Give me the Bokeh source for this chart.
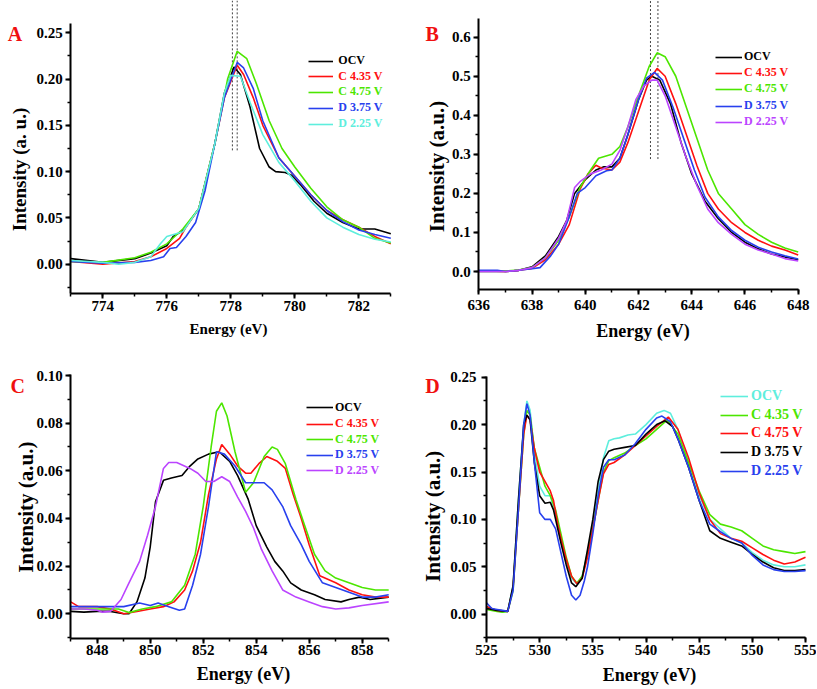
import math
from bokeh.plotting import figure
from bokeh.layouts import gridplot
from bokeh.models import Legend, LegendItem, Label, SingleIntervalTicker, NumeralTickFormatter, Range1d
from bokeh.embed import file_html
from bokeh.resources import INLINE

SERIF = "Liberation Serif"

LABELS = ["OCV", "C 4.35 V", "C 4.75 V", "D 3.75 V", "D 2.25 V"]

BLACK = "#000000"
RED = "#ff1010"
GREEN = "#4ce600"
BLUE = "#2840ee"
CYAN = "#5eeedd"
VIOLET = "#bb44ff"
LETTER_RED = "#f01010"

# ---------------- Panel A (773-783 eV) ----------------
A_OCV_X = [773, 774, 775, 775.5, 776, 776.2, 776.5, 777, 777.5, 777.8, 778.1, 778.3, 778.6, 778.9, 779.2, 779.4, 779.7, 779.9, 780.2, 780.6, 781, 781.5, 782, 782.5, 783]
A_OCV_Y = [0.006, 0.002, 0.006, 0.012, 0.020, 0.030, 0.036, 0.060, 0.130, 0.185, 0.213, 0.205, 0.170, 0.125, 0.105, 0.100, 0.099, 0.096, 0.085, 0.068, 0.055, 0.045, 0.038, 0.038, 0.033]
A_C435_X = [773, 774, 775, 775.5, 776, 776.4, 776.6, 777, 777.5, 777.8, 778.2, 778.4, 778.7, 779, 779.5, 780, 780.5, 781, 781.5, 782, 782.5, 783]
A_C435_Y = [0.003, 0.000, 0.003, 0.008, 0.017, 0.028, 0.040, 0.060, 0.130, 0.180, 0.215, 0.205, 0.180, 0.150, 0.115, 0.095, 0.075, 0.058, 0.048, 0.040, 0.030, 0.022]
A_C475_X = [773, 774, 775, 775.5, 776, 776.5, 777, 777.5, 777.9, 778.2, 778.5, 778.8, 779.2, 779.6, 780, 780.5, 781, 781.5, 782, 782.5, 783]
A_C475_Y = [0.003, 0.002, 0.007, 0.013, 0.022, 0.038, 0.060, 0.130, 0.200, 0.230, 0.222, 0.195, 0.155, 0.125, 0.105, 0.082, 0.062, 0.048, 0.040, 0.028, 0.023]
A_D375_X = [773, 774, 775, 775.5, 775.9, 776.1, 776.3, 776.6, 776.9, 777.2, 777.5, 777.8, 778.2, 778.4, 778.7, 779, 779.5, 780, 780.5, 781, 781.5, 782, 782.5, 783]
A_D375_Y = [0.003, 0.001, 0.002, 0.004, 0.008, 0.017, 0.018, 0.030, 0.045, 0.080, 0.130, 0.180, 0.218, 0.212, 0.190, 0.155, 0.115, 0.095, 0.075, 0.058, 0.046, 0.037, 0.032, 0.028]
A_D225_X = [773, 774, 774.5, 775, 775.5, 775.8, 776, 776.5, 777, 777.5, 777.8, 778, 778.3, 778.6, 779, 779.5, 780, 780.5, 781, 781.5, 782, 782.5, 783]
A_D225_Y = [0.004, 0.002, 0.000, 0.002, 0.008, 0.022, 0.030, 0.035, 0.060, 0.130, 0.185, 0.204, 0.203, 0.175, 0.140, 0.110, 0.090, 0.068, 0.050, 0.040, 0.032, 0.027, 0.024]
A_MARKERS = [778.05, 778.2]

# ---------------- Panel B (636-648 eV) ----------------
B_OCV_X = [636, 637, 637.5, 638, 638.5, 639, 639.3, 639.6, 640, 640.4, 640.7, 641, 641.3, 641.6, 642, 642.3, 642.5, 642.8, 643.2, 643.6, 644, 644.5, 645, 645.5, 646, 646.5, 647, 647.5, 648]
B_OCV_Y = [0.000, 0.000, 0.003, 0.012, 0.040, 0.090, 0.130, 0.200, 0.235, 0.260, 0.268, 0.268, 0.290, 0.350, 0.440, 0.490, 0.500, 0.490, 0.430, 0.330, 0.250, 0.180, 0.135, 0.100, 0.075, 0.058, 0.045, 0.037, 0.030]
B_C435_X = [636, 637, 637.5, 638, 638.5, 639, 639.4, 639.8, 640.1, 640.4, 640.6, 641, 641.3, 641.6, 642, 642.4, 642.7, 643, 643.4, 643.8, 644.2, 644.6, 645, 645.5, 646, 646.5, 647, 647.5, 648]
B_C435_Y = [0.002, 0.000, 0.003, 0.008, 0.030, 0.070, 0.120, 0.210, 0.250, 0.272, 0.265, 0.260, 0.280, 0.330, 0.410, 0.490, 0.520, 0.500, 0.430, 0.350, 0.270, 0.200, 0.160, 0.125, 0.100, 0.080, 0.065, 0.055, 0.042]
B_C475_X = [636, 637, 637.5, 638, 638.5, 639, 639.4, 639.8, 640.2, 640.5, 641, 641.3, 641.6, 642, 642.4, 642.7, 643, 643.4, 643.8, 644.2, 644.6, 645, 645.5, 646, 646.5, 647, 647.5, 648]
B_C475_Y = [0.002, 0.001, 0.004, 0.010, 0.035, 0.080, 0.140, 0.215, 0.260, 0.290, 0.300, 0.320, 0.370, 0.450, 0.525, 0.560, 0.550, 0.500, 0.420, 0.340, 0.260, 0.200, 0.160, 0.120, 0.095, 0.075, 0.060, 0.050]
B_D375_X = [636, 636.7, 637, 637.5, 638, 638.3, 638.7, 639, 639.4, 639.7, 640, 640.4, 640.8, 641, 641.3, 641.6, 642, 642.3, 642.6, 642.9, 643.3, 643.7, 644.1, 644.5, 645, 645.5, 646, 646.5, 647, 647.5, 648]
B_D375_Y = [0.003, 0.003, 0.000, 0.003, 0.007, 0.010, 0.040, 0.070, 0.140, 0.200, 0.215, 0.245, 0.258, 0.260, 0.290, 0.350, 0.440, 0.495, 0.510, 0.490, 0.420, 0.340, 0.260, 0.190, 0.140, 0.105, 0.080, 0.062, 0.050, 0.040, 0.032]
B_D225_X = [636, 637, 637.5, 638, 638.5, 639, 639.3, 639.6, 639.8, 640.2, 640.6, 641, 641.3, 641.6, 641.9, 642.2, 642.5, 642.7, 643, 643.4, 643.8, 644.2, 644.6, 645, 645.5, 646, 646.5, 647, 647.5, 648]
B_D225_Y = [0.000, 0.000, 0.003, 0.010, 0.035, 0.085, 0.130, 0.215, 0.230, 0.250, 0.260, 0.275, 0.310, 0.370, 0.440, 0.475, 0.490, 0.490, 0.450, 0.370, 0.290, 0.220, 0.160, 0.125, 0.095, 0.070, 0.055, 0.045, 0.033, 0.027]
B_MARKERS = [642.45, 642.73]

# ---------------- Panel C (847-859 eV) ----------------
C_OCV_X = [847, 847.5, 848, 848.5, 849, 849.2, 849.5, 849.8, 850, 850.2, 850.5, 850.8, 851.2, 851.5, 851.8, 852.2, 852.6, 853, 853.3, 853.7, 854, 854.4, 854.7, 855, 855.3, 855.7, 856.2, 856.6, 857.2, 857.5, 857.9, 858.3, 859]
C_OCV_Y = [0.001, 0.0007, 0.001, 0.001, 0.000, 0.000, 0.005, 0.015, 0.028, 0.047, 0.056, 0.057, 0.058, 0.062, 0.065, 0.067, 0.068, 0.064, 0.058, 0.048, 0.037, 0.028, 0.022, 0.018, 0.013, 0.010, 0.008, 0.006, 0.005, 0.006, 0.007, 0.006, 0.007]
C_C435_X = [847, 847.3, 848, 848.5, 849, 849.5, 850, 850.5, 850.9, 851.3, 851.6, 851.9, 852.2, 852.5, 852.7, 853, 853.3, 853.6, 853.8, 854.1, 854.4, 854.8, 855.1, 855.4, 855.7, 856, 856.4, 857, 857.5, 858, 858.5, 859]
C_C435_Y = [0.005, 0.003, 0.003, 0.002, 0.000, 0.001, 0.002, 0.003, 0.005, 0.010, 0.018, 0.030, 0.050, 0.065, 0.071, 0.067, 0.062, 0.059, 0.059, 0.063, 0.066, 0.064, 0.061, 0.050, 0.040, 0.029, 0.016, 0.013, 0.010, 0.008, 0.007, 0.007]
C_C475_X = [847, 848, 848.8, 849.2, 849.7, 850.2, 850.8, 851.3, 851.7, 852, 852.3, 852.5, 852.7, 852.9, 853.2, 853.6, 853.9, 854.3, 854.6, 854.8, 855.1, 855.5, 855.8, 856.2, 856.6, 857, 857.5, 858, 858.5, 859]
C_C475_Y = [0.002, 0.002, 0.002, 0.0005, 0.002, 0.003, 0.005, 0.012, 0.025, 0.045, 0.070, 0.085, 0.0885, 0.083, 0.068, 0.051, 0.055, 0.066, 0.070, 0.069, 0.063, 0.048, 0.038, 0.025, 0.018, 0.015, 0.013, 0.011, 0.010, 0.010]
C_D375_X = [847, 848, 849, 849.6, 850, 850.3, 850.7, 851.1, 851.3, 851.6, 851.9, 852.2, 852.5, 852.8, 853.2, 853.6, 853.8, 854.3, 854.6, 855, 855.3, 855.7, 856, 856.5, 857, 857.5, 858, 858.5, 859]
C_D375_Y = [0.003, 0.003, 0.003, 0.0045, 0.0035, 0.0045, 0.003, 0.0015, 0.002, 0.012, 0.025, 0.045, 0.068, 0.067, 0.062, 0.055, 0.055, 0.055, 0.052, 0.045, 0.037, 0.029, 0.022, 0.013, 0.011, 0.009, 0.007, 0.007, 0.008]
C_D225_X = [847, 847.5, 848, 848.2, 848.5, 848.9, 849.2, 849.6, 849.9, 850.2, 850.5, 850.7, 851, 851.5, 851.8, 852.1, 852.4, 852.7, 853, 853.3, 853.6, 853.9, 854.2, 854.6, 855, 855.5, 856, 856.5, 857, 857.5, 858, 859]
C_D225_Y = [0.002, 0.002, 0.0015, 0.0007, 0.001, 0.006, 0.013, 0.022, 0.033, 0.045, 0.061, 0.0635, 0.0635, 0.061, 0.059, 0.0555, 0.0555, 0.0575, 0.0555, 0.049, 0.043, 0.036, 0.027, 0.018, 0.010, 0.007, 0.005, 0.003, 0.002, 0.0025, 0.0035, 0.005]

# ---------------- Panel D (525-555 eV) ----------------
D_OCV_X = [525, 526, 526.5, 527, 527.5, 528, 528.5, 528.8, 529.1, 529.5, 530, 530.5, 531, 531.5, 532, 532.5, 533, 533.5, 534, 534.5, 535, 535.5, 536, 536.5, 537, 537.5, 538.3, 539, 540, 541, 541.7, 542.3, 543, 544, 545, 546, 547, 548, 549, 550, 551, 552, 553, 554, 555]
D_OCV_Y = [0.008, 0.004, 0.002, 0.004, 0.030, 0.120, 0.200, 0.225, 0.215, 0.170, 0.135, 0.125, 0.125, 0.105, 0.080, 0.055, 0.038, 0.032, 0.040, 0.065, 0.095, 0.130, 0.165, 0.183, 0.185, 0.186, 0.189, 0.190, 0.200, 0.212, 0.215, 0.212, 0.195, 0.160, 0.125, 0.100, 0.090, 0.080, 0.075, 0.065, 0.057, 0.052, 0.050, 0.050, 0.052]
D_C435_X = [525, 526, 526.5, 527, 527.5, 528, 528.5, 528.8, 529.1, 529.5, 530, 530.5, 531, 531.5, 532, 532.5, 533, 533.5, 534, 534.5, 535, 535.5, 536, 536.5, 537, 538, 539, 540, 541, 542, 543, 544, 545, 546, 547, 548, 549, 550, 551, 552, 553, 554, 555]
D_C435_Y = [0.005, 0.003, 0.002, 0.003, 0.025, 0.110, 0.190, 0.215, 0.210, 0.175, 0.155, 0.135, 0.125, 0.110, 0.085, 0.060, 0.040, 0.033, 0.040, 0.063, 0.090, 0.120, 0.150, 0.162, 0.165, 0.170, 0.178, 0.185, 0.195, 0.205, 0.190, 0.160, 0.130, 0.105, 0.095, 0.092, 0.088, 0.080, 0.072, 0.068, 0.066, 0.064, 0.066]
D_C475_X = [525, 526, 527, 527.5, 528, 528.5, 528.8, 529.1, 529.5, 530, 530.5, 531, 531.3, 531.7, 532, 532.5, 533, 533.5, 534, 534.5, 535, 535.5, 536, 536.5, 537, 538, 539, 540, 541, 542.1, 543, 544, 545, 546, 547, 548, 549, 550, 551, 552, 553, 554, 555]
D_C475_Y = [0.008, 0.004, 0.003, 0.028, 0.110, 0.190, 0.210, 0.205, 0.175, 0.150, 0.140, 0.130, 0.120, 0.095, 0.080, 0.058, 0.040, 0.032, 0.038, 0.060, 0.090, 0.120, 0.148, 0.158, 0.160, 0.168, 0.178, 0.188, 0.198, 0.208, 0.195, 0.165, 0.128, 0.100, 0.085, 0.080, 0.077, 0.070, 0.063, 0.057, 0.053, 0.055, 0.060]
D_D375_X = [525, 526, 527, 527.5, 528, 528.5, 528.8, 529.1, 529.5, 530, 530.5, 531, 531.3, 531.7, 532, 532.5, 533, 533.4, 534, 534.5, 535, 535.5, 536, 536.5, 537, 538, 539, 540, 541, 541.8, 542.5, 543, 544, 545, 546, 547, 548, 549, 550, 551, 552, 553, 554, 555]
D_D375_Y = [0.006, 0.004, 0.003, 0.030, 0.120, 0.200, 0.210, 0.205, 0.160, 0.125, 0.117, 0.118, 0.110, 0.090, 0.075, 0.052, 0.033, 0.029, 0.038, 0.068, 0.100, 0.140, 0.163, 0.172, 0.174, 0.176, 0.178, 0.190, 0.200, 0.204, 0.198, 0.185, 0.155, 0.120, 0.088, 0.080, 0.076, 0.072, 0.063, 0.055, 0.049, 0.046, 0.046, 0.047]
D_D225_X = [525, 525.5, 526, 526.5, 527, 527.5, 528, 528.5, 528.8, 529.1, 529.5, 530, 530.5, 531, 531.5, 532, 532.5, 533, 533.4, 533.8, 534.2, 534.5, 535, 535.5, 536, 536.5, 537, 538, 539, 540, 541, 541.5, 542.3, 543, 544, 545, 546, 547, 548, 549, 550, 551, 552, 553, 554, 555]
D_D225_Y = [0.012, 0.006, 0.005, 0.004, 0.003, 0.025, 0.110, 0.200, 0.222, 0.210, 0.160, 0.107, 0.100, 0.100, 0.090, 0.065, 0.040, 0.020, 0.015, 0.020, 0.035, 0.050, 0.085, 0.125, 0.155, 0.163, 0.163, 0.168, 0.180, 0.195, 0.207, 0.209, 0.203, 0.185, 0.155, 0.120, 0.095, 0.087, 0.080, 0.075, 0.062, 0.052, 0.047, 0.045, 0.045, 0.046]

BOXES = {}


def make_panel(key, box, xcal, ycal, xbounds, ybounds, xtick, ytick, yfmt, ytl_stand, xtl_stand):
    """box = (page_left, page_top, width, height); xcal/ycal = two (value, page_px) calibration pairs."""
    ox, oy, w, h = box
    (xa, Xa), (xb, Xb) = xcal
    (ya, Ya), (yb, Yb) = ycal
    sx = (xb - xa) / (Xb - Xa)
    sy = (yb - ya) / (Ya - Yb)
    xr = (xa - (Xa - ox) * sx, xa + (ox + w - Xa) * sx)
    yr = (ya - (oy + h - Ya) * sy, ya + (Ya - oy) * sy)
    p = figure(width=w, height=h, x_range=Range1d(*xr), y_range=Range1d(*yr),
               output_backend="svg", toolbar_location=None, min_border=0,
               min_border_left=0, min_border_right=0, min_border_top=0, min_border_bottom=0)
    p.outline_line_color = None
    p.grid.visible = False
    p.background_fill_color = "white"
    p.border_fill_color = "white"
    p.xaxis.ticker = SingleIntervalTicker(interval=xtick, num_minor_ticks=2)
    p.yaxis.ticker = SingleIntervalTicker(interval=ytick, num_minor_ticks=2)
    p.xaxis.formatter = NumeralTickFormatter(format="0")
    p.yaxis.formatter = NumeralTickFormatter(format=yfmt)
    p.xaxis.bounds = xbounds
    p.yaxis.bounds = ybounds
    p.xaxis.fixed_location = ybounds[0]
    p.yaxis.fixed_location = xbounds[0]
    for ax in (p.xaxis, p.yaxis):
        ax.axis_line_width = 2
        ax.axis_line_color = "black"
        ax.major_tick_line_width = 2
        ax.minor_tick_line_width = 1.5
        ax.major_tick_out = 5
        ax.major_tick_in = 0
        ax.minor_tick_out = 3
        ax.minor_tick_in = 0
        ax.major_label_text_font = SERIF
        ax.major_label_text_font_style = "bold"
        ax.major_label_text_font_size = "15px"
        ax.major_label_text_color = "black"
    p.xaxis.major_label_standoff = xtl_stand
    p.yaxis.major_label_standoff = ytl_stand
    BOXES[key] = box
    return p


def screen(key, px, py):
    ox, oy, w, h = BOXES[key]
    return px - ox, (oy + h) - py


def add_text(p, key, px, py, txt, size, color="black", angle=0.0):
    sx, sy = screen(key, px, py)
    p.add_layout(Label(x=sx, y=sy, x_units="screen", y_units="screen", text=txt, text_color=color,
                       text_font=SERIF, text_font_style="bold", text_font_size=size,
                       text_align="center", text_baseline="middle", angle=angle, angle_units="rad"))


def add_series(p, xs, ys, colors):
    return [p.line(x, y, line_color=c, line_width=1.6) for x, y, c in zip(xs, ys, colors)]


def add_legend(p, key, renderers, colors, px, pys, fs, gw, standoff, lh):
    for r, lab, c, py in zip(renderers, LABELS, colors, pys):
        sx, sy = screen(key, px, py)
        leg = Legend(items=[LegendItem(label=lab, renderers=[r])], location=(sx, sy - lh / 2),
                     label_text_color=c, label_text_font=SERIF, label_text_font_style="bold",
                     label_text_font_size=fs, glyph_width=gw, glyph_height=lh, label_height=lh,
                     label_standoff=standoff, padding=0, margin=0, spacing=0,
                     border_line_color=None, background_fill_alpha=0)
        p.add_layout(leg)


def add_markers(p, xs, y0):
    for xm in xs:
        p.segment(x0=xm, y0=y0, x1=xm, y1=p.y_range.end, line_color="#444444",
                  line_width=1, line_dash="2 2")


# Panel A
A_COLORS = [BLACK, RED, GREEN, BLUE, CYAN]
pA = make_panel("A", (0, 0, 410, 344), [(774, 102.3), (782, 358.3)], [(0.0, 263.7), (0.25, 32.3)],
                (773, 783), (-0.032, 0.26), 2, 0.05, "0.00", 3, 2)
add_markers(pA, A_MARKERS, 0.123)
rA = add_series(pA, [A_OCV_X, A_C435_X, A_C475_X, A_D375_X, A_D225_X],
                [A_OCV_Y, A_C435_Y, A_C475_Y, A_D375_Y, A_D225_Y], A_COLORS)
add_legend(pA, "A", rA, A_COLORS, 308.3, [61, 76.7, 92.3, 108.3, 124.3], "12px", 25, 5, 14)
add_text(pA, "A", 14.5, 33, "A", "20px", LETTER_RED)
add_text(pA, "A", 228, 328, "Energy (eV)", "15px")
add_text(pA, "A", 18.5, 169, "Intensity (a. u.)", "19px", angle=math.pi / 2)

# Panel B
B_COLORS = [BLACK, RED, GREEN, BLUE, VIOLET]
pB = make_panel("B", (410, 0, 406, 344), [(636, 478.3), (648, 797.7)], [(0.0, 271), (0.6, 36.7)],
                (636, 648), (-0.047, 0.648), 2, 0.1, "0.0", 3, 5)
add_markers(pB, B_MARKERS, 0.288)
rB = add_series(pB, [B_OCV_X, B_C435_X, B_C475_X, B_D375_X, B_D225_X],
                [B_OCV_Y, B_C435_Y, B_C475_Y, B_D375_Y, B_D225_Y], B_COLORS)
add_legend(pB, "B", rB, B_COLORS, 715, [57.3, 73.3, 89.3, 106, 122], "12px", 27, 2, 14)
add_text(pB, "B", 431.7, 33, "B", "20px", LETTER_RED)
add_text(pB, "B", 642.5, 330, "Energy (eV)", "18px")
add_text(pB, "B", 436, 166, "Intensity (a.u.)", "21px", angle=math.pi / 2)

# Panel C
C_COLORS = [BLACK, RED, GREEN, BLUE, VIOLET]
pC = make_panel("C", (0, 344, 410, 344), [(848, 96.7), (858, 361.7)], [(0.0, 613.3), (0.1, 375)],
                (847, 859), (-0.0102, 0.1003), 2, 0.02, "0.00", 3, 2)
rC = add_series(pC, [C_OCV_X, C_C435_X, C_C475_X, C_D375_X, C_D225_X],
                [C_OCV_Y, C_C435_Y, C_C475_Y, C_D375_Y, C_D225_Y], C_COLORS)
add_legend(pC, "C", rC, C_COLORS, 306, [407.7, 424, 439.7, 455, 470.7], "12px", 27, 2, 14)
add_text(pC, "C", 17.3, 385, "C", "20px", LETTER_RED)
add_text(pC, "C", 243, 673, "Energy (eV)", "18px")
add_text(pC, "C", 25, 506.7, "Intensity (a.u.)", "21px", angle=math.pi / 2)

# Panel D
D_COLORS = [CYAN, GREEN, RED, BLACK, BLUE]
pD = make_panel("D", (410, 344, 406, 344), [(525, 486), (555, 805)], [(0.0, 613.7), (0.25, 376.7)],
                (525, 555), (-0.025, 0.251), 5, 0.05, "0.00", 5, 2)
rD = add_series(pD, [D_OCV_X, D_C435_X, D_C475_X, D_D375_X, D_D225_X],
                [D_OCV_Y, D_C435_Y, D_C475_Y, D_D375_Y, D_D225_Y], D_COLORS)
add_legend(pD, "D", rD, D_COLORS, 720, [395.7, 415, 433.3, 452.3, 471], "14px", 28, 3, 16)
add_text(pD, "D", 432, 385, "D", "20px", LETTER_RED)
add_text(pD, "D", 649, 674, "Energy (eV)", "18px")
add_text(pD, "D", 432.5, 515.8, "Intensity (a.u.)", "21px", angle=math.pi / 2)

layout = gridplot([[pA, pB], [pC, pD]], toolbar_location=None)

with open("out.html", "w") as f:
    f.write(file_html(layout, INLINE))
